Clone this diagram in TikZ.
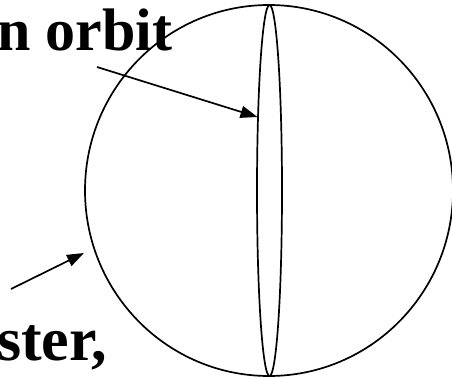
\documentclass[tikz,border=0pt]{standalone}
\usepackage{fontspec}
\setmainfont{Liberation Serif}
\usetikzlibrary{arrows.meta,shapes.geometric}
\begin{document}
\begin{tikzpicture}[x=1pt,y=-1pt,
  lbl/.style={font=\fontsize{60}{62}\selectfont\bfseries, inner sep=0pt, anchor=base west},
  outline/.style={draw, line width=1.7pt},
  pointer/.style={line width=1.7pt, -{Triangle[length=17pt,width=12pt]}}]
\useasboundingbox (0,0) rectangle (452,377);
\node[outline, ellipse, minimum width=368pt, minimum height=371pt, inner sep=0pt] (sphere) at (269,190.5) {};
\node[outline, ellipse, minimum width=25pt, minimum height=371pt, inner sep=0pt] (orbit) at (269.5,190.5) {};
\node[lbl] (top) at (-3,51) {n orbit};
\node[lbl, font=\fontsize{62}{64}\selectfont\bfseries] (bottom) at (-3,360) {ster,};
\coordinate (a1) at (97,67);
\coordinate (h1) at (257.5,117);
\coordinate (a2) at (11,289);
\coordinate (h2) at (84,253);
\draw[pointer] (a1) -- (h1);
\draw[pointer] (a2) -- (h2);
\end{tikzpicture}
\end{document}
